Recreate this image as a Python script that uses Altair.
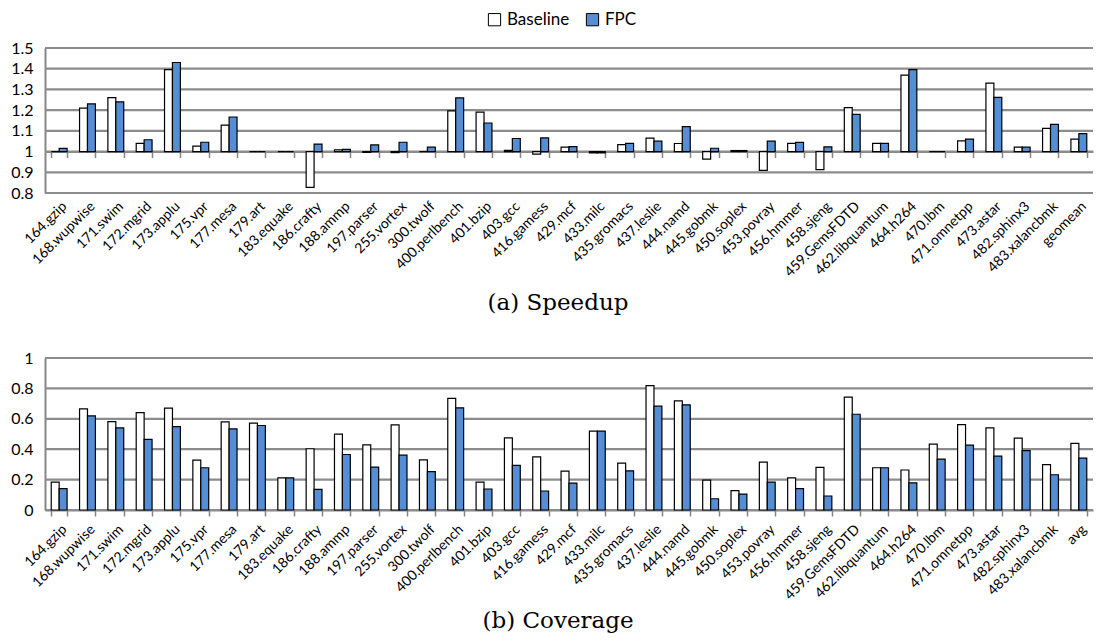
import altair as alt
import pandas as pd

cats_top = ["164.gzip", "168.wupwise", "171.swim", "172.mgrid", "173.applu", "175.vpr",
            "177.mesa", "179.art", "183.equake", "186.crafty", "188.ammp", "197.parser",
            "255.vortex", "300.twolf", "400.perlbench", "401.bzip", "403.gcc", "416.gamess",
            "429.mcf", "433.milc", "435.gromacs", "437.leslie", "444.namd", "445.gobmk",
            "450.soplex", "453.povray", "456.hmmer", "458.sjeng", "459.GemsFDTD",
            "462.libquantum", "464.h264", "470.lbm", "471.omnetpp", "473.astar",
            "482.sphinx3", "483.xalancbmk", "geomean"]
cats_bot = cats_top[:-1] + ["avg"]

speedup_baseline = [1.0, 1.21, 1.26, 1.04, 1.396, 1.026, 1.128, 1.0, 1.0, 0.827, 1.008, 0.996,
                    0.995, 1.0, 1.196, 1.19, 1.006, 0.988, 1.021, 0.994, 1.034, 1.065, 1.039,
                    0.964, 1.005, 0.909, 1.04, 0.913, 1.212, 1.04, 1.369, 1.0, 1.052, 1.33,
                    1.021, 1.112, 1.06]
speedup_fpc = [1.015, 1.23, 1.24, 1.057, 1.43, 1.045, 1.167, 1.0, 1.0, 1.036, 1.011, 1.032,
               1.045, 1.021, 1.259, 1.138, 1.063, 1.066, 1.024, 0.994, 1.04, 1.05, 1.12,
               1.016, 1.005, 1.05, 1.044, 1.023, 1.18, 1.04, 1.396, 1.0, 1.06, 1.262,
               1.021, 1.131, 1.087]

coverage_baseline = [0.184, 0.665, 0.582, 0.641, 0.67, 0.328, 0.58, 0.571, 0.212, 0.403, 0.499,
                     0.428, 0.56, 0.33, 0.735, 0.184, 0.475, 0.35, 0.256, 0.519, 0.309, 0.818,
                     0.718, 0.197, 0.127, 0.315, 0.212, 0.28, 0.742, 0.278, 0.263, 0.433,
                     0.562, 0.54, 0.473, 0.298, 0.438]
coverage_fpc = [0.14, 0.619, 0.54, 0.464, 0.549, 0.278, 0.534, 0.556, 0.212, 0.136, 0.365,
                0.282, 0.361, 0.252, 0.672, 0.138, 0.293, 0.125, 0.177, 0.519, 0.258, 0.683,
                0.692, 0.074, 0.105, 0.184, 0.14, 0.092, 0.63, 0.278, 0.179, 0.335,
                0.427, 0.354, 0.39, 0.232, 0.341]

speedup_ticks = [0.8, 0.9, 1.0, 1.1, 1.2, 1.3, 1.4, 1.5]
coverage_ticks = [0, 0.2, 0.4, 0.6, 0.8, 1.0]

series = ["Baseline", "FPC"]
colors = ["#FFFFFF", "#558ED5"]

def make_df(cats, a, b):
    rows = []
    for c, va, vb in zip(cats, a, b):
        rows.append({"bench": c, "series": "Baseline", "value": va})
        rows.append({"bench": c, "series": "FPC", "value": vb})
    return pd.DataFrame(rows)

df_top = make_df(cats_top, speedup_baseline, speedup_fpc)
df_top["base"] = 1.0
df_bot = make_df(cats_bot, coverage_baseline, coverage_fpc)

W = 1048
H1 = 145
H2 = 152
GRID = "#8C8C8C"
AX = "#868686"
LBL = "Lato"

xscale = alt.Scale(paddingInner=0.44, paddingOuter=0.22)
yscale_top = alt.Scale(domain=[0.8, 1.5], zero=False, nice=False)
yscale_bot = alt.Scale(domain=[0, 1], nice=False)

def xaxis_labels(ticks):
    return alt.Axis(orient="bottom", title=None, labelAngle=-45, labelFont=LBL, labelFontSize=14,
                    labelColor="black", labelPadding=6, labelOverlap=False,
                    domain=ticks, ticks=ticks, tickBand="extent", tickSize=6,
                    tickColor=AX, tickWidth=1.5, domainColor=AX, domainWidth=2,
                    grid=False, labelBound=False)

def yaxis(vals):
    return alt.Axis(title=None, values=vals, format="~g", ticks=False, domainColor=AX,
                    domainWidth=2, grid=False, labelFont=LBL,
                    labelFontSize=16, labelColor="black", labelPadding=12,
                    labelOverlap=False)

def grid_layer(vals, yscale):
    return alt.Chart(pd.DataFrame({"g": vals})).mark_rule(
        stroke=GRID, strokeWidth=2.2, strokeOpacity=1).encode(
        y=alt.Y("g:Q", scale=yscale, axis=yaxis(vals)),
        x=alt.value(0), x2=alt.value(W))

color = alt.Color("series:N", scale=alt.Scale(domain=series, range=colors), sort=series)

# ---- top: speedup
bars_top = alt.Chart(df_top).mark_bar(stroke="black", strokeWidth=1.2).encode(
    x=alt.X("bench:N", sort=cats_top, scale=xscale, axis=xaxis_labels(False)),
    xOffset=alt.XOffset("series:N", sort=series),
    y=alt.Y("value:Q", scale=yscale_top, axis=yaxis(speedup_ticks)),
    y2="base:Q",
    color=color.legend(alt.Legend(orient="none", direction="horizontal", legendX=441,
                                  legendY=-37, title=None, symbolType="square",
                                  symbolSize=150, symbolStrokeColor="black",
                                  symbolStrokeWidth=1, symbolOpacity=1,
                                  labelFont=LBL, labelFontSize=17, labelColor="black",
                                  columnPadding=14, padding=0)),
)

axis_line = alt.Chart(pd.DataFrame({"bench": cats_top})).mark_point(opacity=0).encode(
    x=alt.X("bench:N", sort=cats_top, scale=xscale,
            axis=alt.Axis(orient="bottom", offset=-(0.2 / 0.7) * H1, labels=False, title=None,
                          domainColor=AX, domainWidth=2, tickColor=AX, tickWidth=1.5,
                          tickSize=6, tickBand="extent", grid=False)),
    y=alt.YDatum(1.0, scale=yscale_top, axis=yaxis(speedup_ticks)),
)

top = alt.layer(grid_layer(speedup_ticks, yscale_top), bars_top, axis_line).resolve_axis(
    x="independent").properties(
    width=W, height=H1,
    title=alt.TitleParams("(a) Speedup", orient="bottom", anchor="middle",
                          font="DejaVu Serif", fontSize=23, fontWeight="normal",
                          color="black", offset=13, dx=-11),
)

# ---- bottom: coverage
bars_bot = alt.Chart(df_bot).mark_bar(stroke="black", strokeWidth=1.2).encode(
    x=alt.X("bench:N", sort=cats_bot, scale=xscale, axis=xaxis_labels(True)),
    xOffset=alt.XOffset("series:N", sort=series),
    y=alt.Y("value:Q", scale=yscale_bot, axis=yaxis(coverage_ticks)),
    color=color.legend(None),
)

bot = alt.layer(grid_layer(coverage_ticks, yscale_bot), bars_bot).properties(
    width=W, height=H2,
    title=alt.TitleParams("(b) Coverage", orient="bottom", anchor="middle",
                          font="DejaVu Serif", fontSize=23, fontWeight="normal",
                          color="black", offset=8, dx=-11),
)

chart = alt.vconcat(top, bot, spacing=34).resolve_scale(color="independent").properties(
    padding={"left": 2, "top": 3, "right": 0, "bottom": 0}
).configure_view(stroke=None)

chart.save("out.html", embed_options={"renderer": "svg", "actions": False})
